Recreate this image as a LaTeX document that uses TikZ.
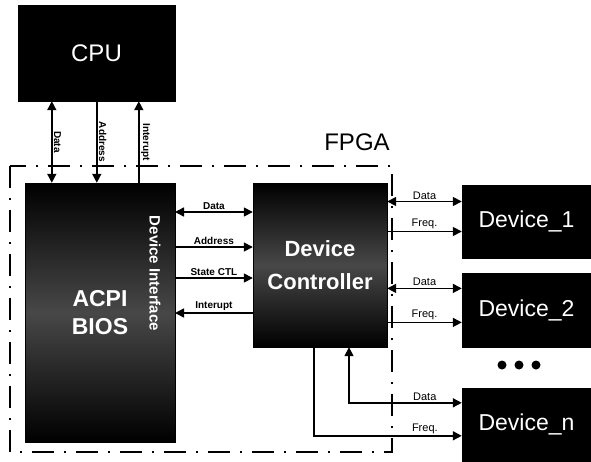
\documentclass[tikz,border=0pt]{standalone}
\usepackage{fontspec}
\setmainfont{Liberation Sans}
\setsansfont{Liberation Sans}
\usepackage{tikz}
\usetikzlibrary{arrows.meta,positioning,calc}
\tikzset{
  hwbox/.style={draw=black,fill=black,text=white,align=center,inner sep=0pt,font=\fontsize{24}{26}\selectfont},
  hwshade/.style={hwbox,top color=black,bottom color=black,middle color=black!72},
  hwlink/.style={line width=1.6pt,>={Triangle[length=9pt,width=9pt]}},
  hwlabel/.style={font=\bfseries\fontsize{10}{11}\selectfont,inner sep=1.5pt},
  devlabel/.style={font=\fontsize{11}{12}\selectfont,inner sep=1.5pt},
  fpgaline/.style={line width=1.6pt,dash pattern=on 22pt off 10pt on 2pt off 10pt},
}
\begin{document}
\begin{tikzpicture}[x=1pt,y=-1pt]
\useasboundingbox (0,0) rectangle (591,461);
 % FPGA frame
\draw[fpgaline] (10,166) rectangle (392,452);
\node[font=\fontsize{24}{26}\selectfont] (fpga) at (357,142) {FPGA};
 % blocks
\node[hwbox,minimum width=157pt,minimum height=96pt] (cpu) at (96.5,53) {CPU};
\node[hwshade,minimum width=150pt,minimum height=259pt,font=\bfseries\fontsize{23}{28}\selectfont] (bios) at (100,312.5) {ACPI\\BIOS};
\node[rotate=-90,text=white,inner sep=0pt,font=\bfseries\fontsize{15}{16}\selectfont] (devif) at (155,273.5) {Device Interface};
\node[hwshade,minimum width=134pt,minimum height=164pt,font=\bfseries\fontsize{22}{33}\selectfont] (ctrl) at (320,265) {Device\\Controller};
\node[hwbox,minimum width=129pt,minimum height=73pt,font=\fontsize{23}{25}\selectfont] (dev1) at (526.5,221.5) {Device\_1};
\node[hwbox,minimum width=129pt,minimum height=74pt,font=\fontsize{23}{25}\selectfont,below=15pt of dev1] (dev2) {Device\_2};
\node[hwbox,minimum width=129pt,minimum height=73pt,font=\fontsize{23}{25}\selectfont,below=40pt of dev2] (devn) {Device\_n};
\foreach \dx in {-17,0,17}
  \fill ($(519,365)+(\dx,0)$) circle (4.5pt);
 % CPU bus
\coordinate (busd) at ([xshift=34pt]cpu.south west);
\coordinate (busa) at ([xshift=79pt]cpu.south west);
\coordinate (busi) at ([xshift=121pt]cpu.south west);
\draw[hwlink,<->] (busd) -- (busd |- bios.north) node[hwlabel,midway,anchor=south,rotate=-90]{Data};
\draw[hwlink,->] (busa) -- (busa |- bios.north) node[hwlabel,midway,anchor=south,rotate=-90]{Address};
\draw[hwlink,<-] (busi) -- (busi |- bios.north) node[hwlabel,midway,anchor=south,rotate=-90]{Interupt};
 % BIOS to controller
\coordinate (ifd) at (175,212);
\coordinate (ifa) at (175,247);
\coordinate (ifs) at (175,278);
\coordinate (ifi) at (175,313);
\draw[hwlink,<->] (ifd) -- node[hwlabel,above]{Data} (ifd -| ctrl.west);
\draw[hwlink,->] (ifa) -- node[hwlabel,above]{Address} (ifa -| ctrl.west);
\draw[hwlink,->] (ifs) -- node[hwlabel,above]{State CTL} (ifs -| ctrl.west);
\draw[hwlink,<-] (ifi) -- node[hwlabel,above]{Interupt} (ifi -| ctrl.west);
 % controller to devices
\coordinate (d1data) at ([yshift=20pt]dev1.west);
\coordinate (d1freq) at ([yshift=-10pt]dev1.west);
\coordinate (d2data) at ([yshift=22pt]dev2.west);
\coordinate (d2freq) at ([yshift=-12pt]dev2.west);
\coordinate (dndata) at ([yshift=21.5pt]devn.west);
\coordinate (dnfreq) at ([yshift=-11.5pt]devn.west);
\draw[hwlink,<->] (ctrl.east |- d1data) -- node[devlabel,above]{Data} (d1data);
\draw[hwlink,->] (ctrl.east |- d1freq) -- node[devlabel,above]{Freq.} (d1freq);
\draw[hwlink,<->] (ctrl.east |- d2data) -- node[devlabel,above]{Data} (d2data);
\draw[hwlink,->] (ctrl.east |- d2freq) -- node[devlabel,above]{Freq.} (d2freq);
\draw[hwlink,<->] ([xshift=29pt]ctrl.south) |- node[devlabel,above,pos=0.836]{Data} (dndata);
\draw[hwlink,->] ([xshift=-6pt]ctrl.south) |- node[devlabel,above,pos=0.875]{Freq.} (dnfreq);
\end{tikzpicture}
\end{document}
